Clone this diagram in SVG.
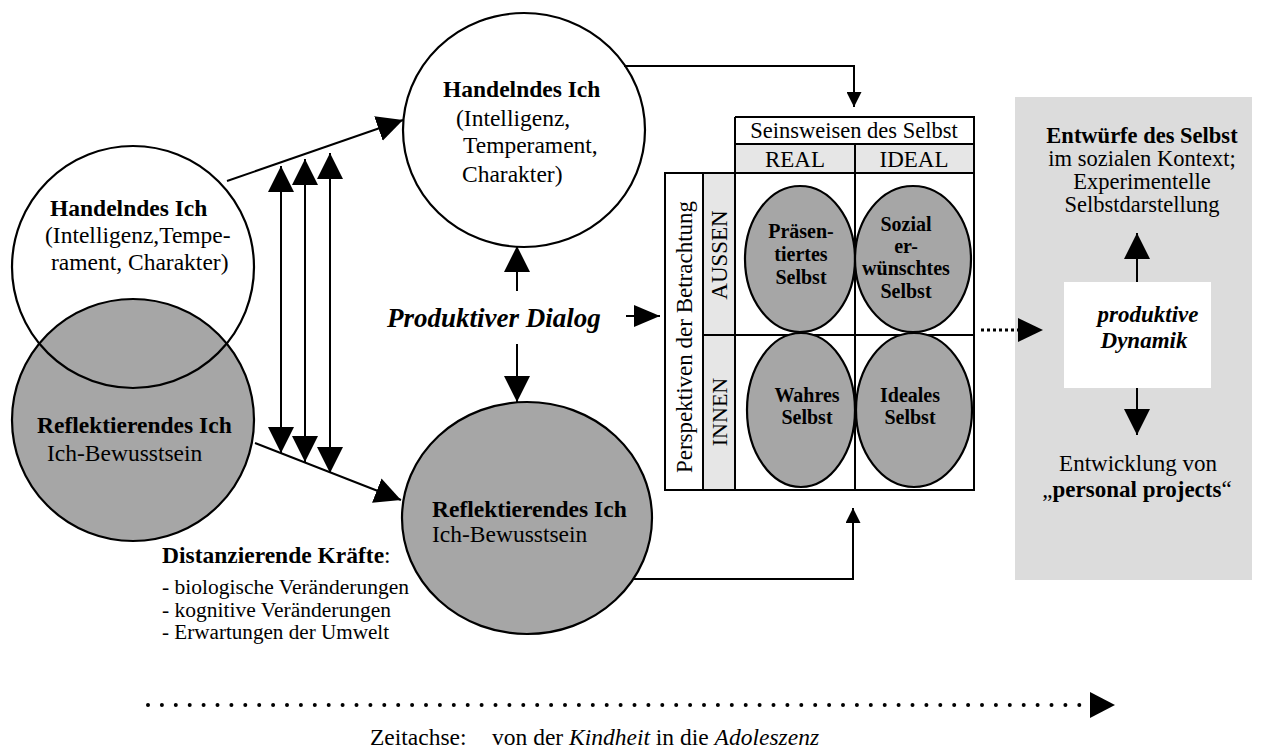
<svg xmlns="http://www.w3.org/2000/svg" width="1266" height="753" viewBox="0 0 1266 753">
<style>
.t{font-family:"Liberation Serif","Times New Roman",serif;fill:#000}
.b{font-weight:bold}
.i{font-style:italic}
.ln{stroke:#000;stroke-width:2;fill:none}
.node-w{fill:#fff;stroke:#000;stroke-width:2.2}
.node-g{fill:#a6a6a6;stroke:#000;stroke-width:2.2}
.cell{fill:#e6e6e6;stroke:none}
</style>
<defs>
<marker id="ah" viewBox="0 0 26 26" refX="26" refY="13" markerWidth="26" markerHeight="26" markerUnits="userSpaceOnUse" orient="auto-start-reverse"><path d="M0,0 L26,13 L0,26 z" fill="#000"/></marker>
<marker id="ahr" viewBox="0 0 26 22" refX="26" refY="11" markerWidth="26" markerHeight="22" markerUnits="userSpaceOnUse" orient="auto"><path d="M0,0 L26,11 L0,22 z" fill="#000"/></marker>
<marker id="as" viewBox="0 0 15 15" refX="15" refY="7.5" markerWidth="15" markerHeight="15" markerUnits="userSpaceOnUse" orient="auto"><path d="M0,0 L15,7.5 L0,15 z" fill="#000"/></marker>
</defs>
<rect width="1266" height="753" fill="#fff"/>

<!-- right gray box -->
<g id="entwuerfe-box">
<rect x="1015" y="97" width="237" height="483" fill="#dcdcdc"/>
<text class="t b" x="1142" y="143" font-size="22.5" text-anchor="middle">Entwürfe des Selbst</text>
<text class="t" x="1142" y="166" font-size="22.5" text-anchor="middle">im sozialen Kontext;</text>
<text class="t" x="1142" y="189" font-size="22.5" text-anchor="middle">Experimentelle</text>
<text class="t" x="1142" y="212" font-size="22.5" text-anchor="middle">Selbstdarstellung</text>
<text class="t" x="1138" y="471" font-size="23" text-anchor="middle">Entwicklung von</text>
<text class="t" x="1137" y="497" font-size="23" text-anchor="middle">„<tspan class="b">personal projects</tspan>“</text>
</g>
<g id="produktive-dynamik">
<rect x="1064" y="282" width="147" height="106" fill="#fff"/>
<text class="t b i" x="1148" y="322" font-size="23" text-anchor="middle">produktive</text>
<text class="t b i" x="1144" y="348" font-size="23" text-anchor="middle">Dynamik</text>
</g>

<!-- left circles -->
<g id="handelndes-ich-links">
<circle class="node-w" cx="133" cy="267" r="121"/>
<text class="t b" x="50" y="216" font-size="23.5">Handelndes Ich</text>
<text class="t" x="45" y="243" font-size="23.5">(Intelligenz,Tempe-</text>
<text class="t" x="51" y="270" font-size="23.5">rament, Charakter)</text>
</g>
<g id="reflektierendes-ich-links">
<circle class="node-g" cx="133" cy="420" r="121"/>
<path d="M39.25,343.5 A121,121 0 0 0 226.75,343.5" fill="none" stroke="#000" stroke-width="2.2"/>
<text class="t b" x="37" y="433" font-size="23.5">Reflektierendes Ich</text>
<text class="t" x="47" y="461" font-size="23.5">Ich-Bewusstsein</text>
</g>

<!-- middle circles -->
<g id="handelndes-ich">
<ellipse class="node-w" cx="524" cy="130" rx="121" ry="117"/>
<text class="t b" x="443" y="97" font-size="23.5">Handelndes Ich</text>
<text class="t" x="456" y="126" font-size="23.5">(Intelligenz,</text>
<text class="t" x="463" y="153" font-size="23.5">Temperament,</text>
<text class="t" x="462" y="182" font-size="23.5">Charakter)</text>
</g>
<g id="reflektierendes-ich">
<ellipse class="node-g" cx="527" cy="518" rx="125" ry="116"/>
<text class="t b" x="432" y="517" font-size="23.5">Reflektierendes Ich</text>
<text class="t" x="432" y="542" font-size="23.5">Ich-Bewusstsein</text>
</g>

<g id="produktiver-dialog">
<text class="t b i" x="387" y="327" font-size="27">Produktiver Dialog</text>
</g>

<g id="distanzierende-kraefte">
<text class="t" x="162" y="563" font-size="23.5"><tspan class="b">Distanzierende Kräfte</tspan>:</text>
<text class="t" x="162" y="594" font-size="20" textLength="247" lengthAdjust="spacingAndGlyphs">- biologische Veränderungen</text>
<text class="t" x="162" y="616.5" font-size="20" textLength="229" lengthAdjust="spacingAndGlyphs">- kognitive Veränderungen</text>
<text class="t" x="162" y="639" font-size="20" textLength="227" lengthAdjust="spacingAndGlyphs">- Erwartungen der Umwelt</text>
</g>

<!-- table -->
<g id="tabelle">
<rect x="735" y="117" width="239" height="27" fill="#fff"/>
<rect class="cell" x="735" y="144" width="239" height="29"/>
<rect x="665" y="173" width="309" height="317" fill="#fff"/>
<rect class="cell" x="703" y="173" width="32" height="317"/>
<path class="ln" d="M735,117 H974 V490 H665 V173 H974 M735,144 H974 M735,117 V490 M855,144 V490 M703,173 V490 M703,335 H974"/>
<text class="t" x="854" y="138" font-size="22.5" text-anchor="middle">Seinsweisen des Selbst</text>
<text class="t" x="795" y="167" font-size="23" text-anchor="middle">REAL</text>
<text class="t" x="914" y="167" font-size="23" text-anchor="middle">IDEAL</text>
<text class="t" font-size="23" text-anchor="middle" transform="translate(692,337) rotate(-90)">Perspektiven der Betrachtung</text>
<text class="t" font-size="23" text-anchor="middle" transform="translate(727,255) rotate(-90)">AUSSEN</text>
<text class="t" font-size="22" text-anchor="middle" transform="translate(727,412) rotate(-90)">INNEN</text>
</g>
<g id="praesentiertes-selbst">
<ellipse class="node-g" cx="800" cy="259" rx="55" ry="73"/>
<text class="t b" font-size="20" text-anchor="middle"><tspan x="801" y="238">Präsen-</tspan><tspan x="801" y="261">tiertes</tspan><tspan x="801" y="284">Selbst</tspan></text>
</g>
<g id="sozial-erwuenschtes-selbst">
<ellipse class="node-g" cx="913" cy="259" rx="58" ry="73"/>
<text class="t b" font-size="20" text-anchor="middle"><tspan x="906" y="231">Sozial</tspan><tspan x="906" y="253">er-</tspan><tspan x="906" y="275">wünschtes</tspan><tspan x="906" y="298">Selbst</tspan></text>
</g>
<g id="wahres-selbst">
<ellipse class="node-g" cx="801" cy="410" rx="54" ry="77"/>
<text class="t b" font-size="20" text-anchor="middle"><tspan x="807" y="402">Wahres</tspan><tspan x="807" y="424">Selbst</tspan></text>
</g>
<g id="ideales-selbst">
<ellipse class="node-g" cx="914" cy="410" rx="58" ry="77"/>
<text class="t b" font-size="20" text-anchor="middle"><tspan x="910" y="402">Ideales</tspan><tspan x="910" y="424">Selbst</tspan></text>
</g>

<g id="zeitachse">
<text class="t" x="370" y="745" font-size="23.5">Zeitachse:<tspan x="492">von der <tspan class="i">Kindheit</tspan> in die <tspan class="i">Adoleszenz</tspan></tspan></text>
</g>

<!-- connectors -->
<g id="connectors">
<path class="ln" d="M281,166 L281,453" marker-start="url(#ah)" marker-end="url(#ah)"/>
<path class="ln" d="M305,159 L305,462" marker-start="url(#ah)" marker-end="url(#ah)"/>
<path class="ln" d="M330,153 L330,473" marker-start="url(#ah)" marker-end="url(#ah)"/>
<path class="ln" d="M227,181 L403,120" marker-end="url(#ah)"/>
<path class="ln" d="M255,443 L401,500" marker-end="url(#ah)"/>
<path class="ln" d="M517,291 L517,246" marker-end="url(#ah)"/>
<path class="ln" d="M517,344 L517,402" marker-end="url(#ah)"/>
<path class="ln" d="M626,316 L660,316" marker-end="url(#ahr)"/>
<path class="ln" d="M624,66 H854 V107" marker-end="url(#as)"/>
<path class="ln" d="M634,579 H853 V508" marker-end="url(#as)"/>
<path d="M981,330 L1018,330" stroke="#000" stroke-width="3" stroke-dasharray="3 3" fill="none"/>
<polygon points="1018,318 1043,330 1018,342" fill="#000"/>
<path class="ln" d="M1137,282 V233" marker-end="url(#ah)"/>
<path class="ln" d="M1137,388 V435" marker-end="url(#ah)"/>
<path d="M148,705 L1090,705" stroke="#000" stroke-width="4" stroke-linecap="round" stroke-dasharray="0 13.9" fill="none"/>
<polygon points="1090,692 1115,705 1090,718" fill="#000"/>
</g>
</svg>
